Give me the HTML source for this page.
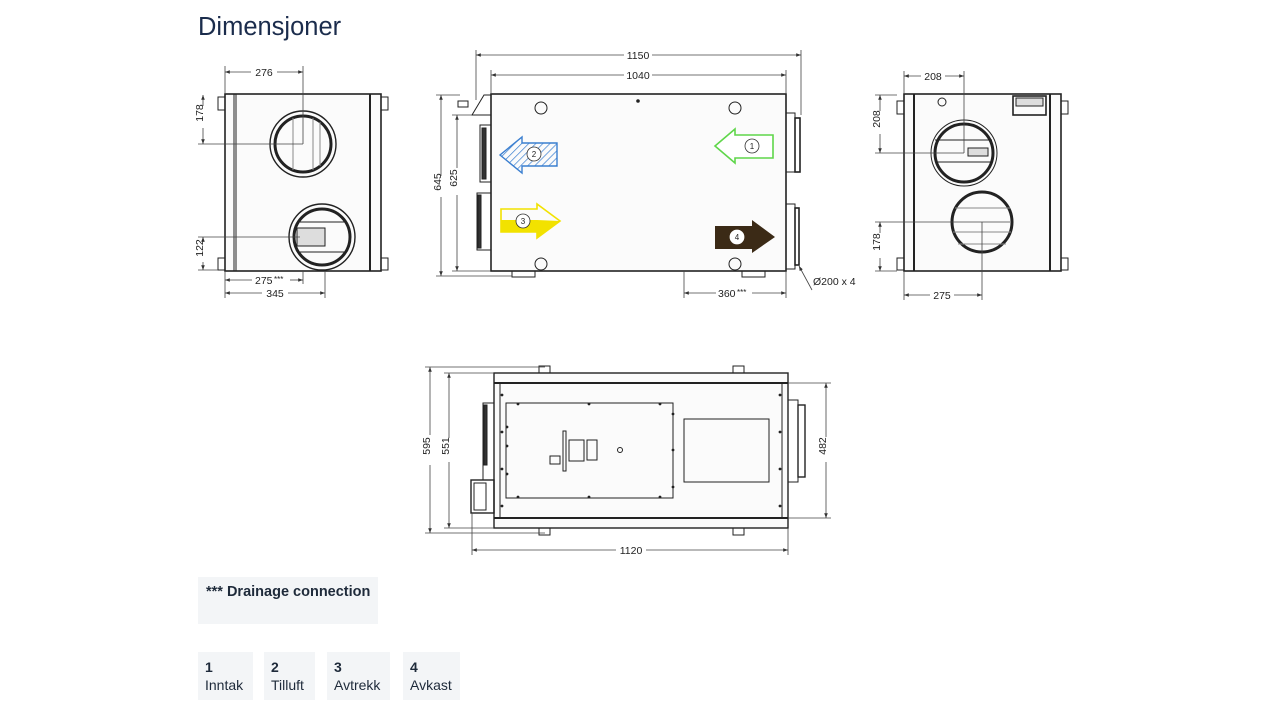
<!DOCTYPE html>
<html><head><meta charset="utf-8"><style>
html,body{margin:0;padding:0;background:#fff;width:1280px;height:720px;overflow:hidden}
svg{position:absolute;left:0;top:0}
.t{font-family:"Liberation Sans",Arial,sans-serif}
</style></head><body>
<svg width="1280" height="720" viewBox="0 0 1280 720" xmlns="http://www.w3.org/2000/svg">
<defs>
<pattern id="h" patternUnits="userSpaceOnUse" width="5" height="5" patternTransform="rotate(45)"><line x1="0" y1="0" x2="0" y2="5" stroke="#3b7fd0" stroke-width="1.4"/></pattern>
<marker id="a" viewBox="0 0 8 8" refX="8" refY="4" markerWidth="6" markerHeight="6" orient="auto-start-reverse"><path d="M0,1 L8,4 L0,7z" fill="#333"/></marker>
</defs>
<text x="198" y="35" class="t" font-size="25.5" fill="#1b2c4c">Dimensjoner</text>

<g stroke="#222" fill="none" stroke-width="1">
<!-- LEFT VIEW -->
<rect x="225" y="94" width="156" height="177" stroke-width="1.6" fill="#fbfbfb"/>
<line x1="234" y1="94" x2="234" y2="271"/><line x1="236" y1="94" x2="236" y2="271"/>
<line x1="370" y1="94" x2="370" y2="271" stroke-width="2"/>
<rect x="218" y="97" width="7" height="13"/><rect x="218" y="258" width="7" height="12"/>
<rect x="381" y="97" width="7" height="13"/><rect x="381" y="258" width="7" height="12"/>
<circle cx="303" cy="144" r="33" stroke-width="1.4"/><circle cx="303" cy="144" r="28" stroke-width="3"/>
<line x1="293" y1="118" x2="293" y2="170" stroke="#888"/><line x1="313" y1="118" x2="313" y2="170" stroke="#888"/><line x1="320" y1="122" x2="320" y2="166" stroke="#888"/>
<circle cx="322" cy="237" r="33" stroke-width="1.4"/><circle cx="322" cy="237" r="28" stroke-width="3"/>
<rect x="297" y="228" width="28" height="18" fill="#ddd"/><line x1="300" y1="222" x2="345" y2="222"/><line x1="300" y1="252" x2="345" y2="252"/>
<g stroke="#444" stroke-width="0.8">
<line x1="225" y1="72" x2="251" y2="72" marker-start="url(#a)"/><line x1="277" y1="72" x2="303" y2="72" marker-end="url(#a)"/>
<line x1="225" y1="66" x2="225" y2="94"/><line x1="303" y1="66" x2="303" y2="144"/>
<line x1="203" y1="95" x2="203" y2="106" marker-start="url(#a)"/><line x1="203" y1="128" x2="203" y2="144" marker-end="url(#a)"/>
<line x1="198" y1="144" x2="303" y2="144"/>
<line x1="203" y1="237" x2="203" y2="242" marker-start="url(#a)"/><line x1="203" y1="262" x2="203" y2="270" marker-end="url(#a)"/>
<line x1="198" y1="237" x2="300" y2="237"/><line x1="198" y1="270" x2="218" y2="270"/>
<line x1="225" y1="271" x2="225" y2="298"/><line x1="303" y1="271" x2="303" y2="284"/><line x1="325" y1="271" x2="325" y2="298"/>
<line x1="225" y1="280" x2="252" y2="280" marker-start="url(#a)"/><line x1="290" y1="280" x2="303" y2="280" marker-end="url(#a)"/>
<line x1="225" y1="293" x2="262" y2="293" marker-start="url(#a)"/><line x1="288" y1="293" x2="325" y2="293" marker-end="url(#a)"/>
</g>

<!-- MIDDLE VIEW -->
<rect x="491" y="94" width="295" height="177" stroke-width="1.6" fill="#fbfbfb"/>
<circle cx="541" cy="108" r="6"/><circle cx="735" cy="108" r="6"/><circle cx="541" cy="264" r="6"/><circle cx="735" cy="264" r="6"/>
<circle cx="638" cy="101" r="1.3" fill="#222"/>
<path d="M472,115 L484,95 L491,95 L491,115 Z"/><path d="M458,101 h10 v6 h-10z"/>
<rect x="480" y="125" width="11" height="57"/><rect x="482" y="128" width="4" height="51" fill="#333"/>
<rect x="477" y="193" width="14" height="57"/><rect x="478" y="195" width="3" height="53" fill="#333"/>
<rect x="786" y="113" width="9" height="59"/><rect x="795" y="118" width="5" height="54" stroke-width="1.6"/>
<rect x="786" y="204" width="9" height="65"/><rect x="795" y="208" width="4" height="57" stroke-width="1.6"/>
<rect x="512" y="271" width="23" height="6"/><rect x="742" y="271" width="23" height="6"/>
<g stroke="#444" stroke-width="0.8">
<line x1="476" y1="55" x2="624" y2="55" marker-start="url(#a)"/><line x1="652" y1="55" x2="801" y2="55" marker-end="url(#a)"/>
<line x1="476" y1="50" x2="476" y2="100"/><line x1="801" y1="50" x2="801" y2="115"/>
<line x1="491" y1="75" x2="624" y2="75" marker-start="url(#a)"/><line x1="652" y1="75" x2="786" y2="75" marker-end="url(#a)"/>
<line x1="491" y1="70" x2="491" y2="94"/><line x1="786" y1="70" x2="786" y2="94"/>
<line x1="441" y1="95" x2="441" y2="176" marker-start="url(#a)"/><line x1="441" y1="197" x2="441" y2="276" marker-end="url(#a)"/>
<line x1="436" y1="95" x2="460" y2="95"/><line x1="436" y1="276" x2="512" y2="276"/>
<line x1="457" y1="115" x2="457" y2="168" marker-start="url(#a)"/><line x1="457" y1="195" x2="457" y2="271" marker-end="url(#a)"/>
<line x1="452" y1="115" x2="472" y2="115"/><line x1="452" y1="271" x2="491" y2="271"/>
<line x1="684" y1="271" x2="684" y2="298"/><line x1="786" y1="271" x2="786" y2="298"/>
<line x1="684" y1="293" x2="716" y2="293" marker-start="url(#a)"/><line x1="752" y1="293" x2="786" y2="293" marker-end="url(#a)"/>
<line x1="812" y1="290" x2="799" y2="266" marker-end="url(#a)"/>
</g>
<path d="M773,135 L735,135 L735,129 L715,146 L735,163 L735,158 L773,158 Z" stroke="#5fd64a" stroke-width="1.6" fill="#fff"/>
<circle cx="752" cy="146" r="7" stroke="#333" stroke-width="0.8" fill="#fff"/>
<path d="M557,143 L522,143 L522,137 L500,155 L522,173 L522,166 L557,166 Z" stroke="#3b7fd0" stroke-width="1.4" fill="url(#h)"/>
<circle cx="534" cy="154" r="7" stroke="#333" stroke-width="0.8" fill="#fff"/>
<path d="M501,220 L537,220 L537,232 L501,232 Z" fill="#f2e200" stroke="none"/>
<path d="M501,209 L537,209 L537,204 L560,221 L537,238 L537,232 L501,232 Z" stroke="#f2e200" stroke-width="1.6" fill="none"/>
<path d="M537,220 L560,221 L537,238 Z" fill="#f2e200" stroke="none"/>
<circle cx="523" cy="221" r="7" stroke="#333" stroke-width="0.8" fill="#fff"/>
<path d="M715,226 L752,226 L752,220 L775,237 L752,253 L752,249 L715,249 Z" fill="#3b2a16" stroke="none"/>
<circle cx="737" cy="237" r="7" stroke="#fff" stroke-width="0.8" fill="#fff"/>

<!-- RIGHT VIEW -->
<rect x="904" y="94" width="157" height="177" stroke-width="1.6" fill="#fbfbfb"/>
<line x1="914" y1="94" x2="914" y2="271" stroke-width="2"/><line x1="1050" y1="94" x2="1050" y2="271" stroke-width="2"/>
<rect x="897" y="101" width="7" height="13"/><rect x="897" y="258" width="7" height="12"/>
<rect x="1061" y="101" width="7" height="13"/><rect x="1061" y="258" width="7" height="12"/>
<rect x="1013" y="96" width="33" height="19" stroke-width="1.6"/><rect x="1016" y="98" width="27" height="8" fill="#ddd"/>
<circle cx="942" cy="102" r="4"/>
<circle cx="964" cy="153" r="33"/><circle cx="964" cy="153" r="29" stroke-width="3"/>
<line x1="935" y1="140" x2="992" y2="140"/><line x1="935" y1="162" x2="992" y2="162"/><rect x="968" y="148" width="20" height="8" fill="#ddd"/>
<circle cx="982" cy="222" r="30" stroke-width="3"/>
<line x1="955" y1="208" x2="1010" y2="208" stroke="#888"/><line x1="953" y1="232" x2="1011" y2="232" stroke="#888"/><line x1="958" y1="244" x2="1006" y2="244" stroke="#888"/>
<g stroke="#444" stroke-width="0.8">
<line x1="904" y1="76" x2="921" y2="76" marker-start="url(#a)"/><line x1="945" y1="76" x2="964" y2="76" marker-end="url(#a)"/>
<line x1="904" y1="71" x2="904" y2="94"/><line x1="964" y1="71" x2="964" y2="153"/>
<line x1="880" y1="95" x2="880" y2="111" marker-start="url(#a)"/><line x1="880" y1="134" x2="880" y2="153" marker-end="url(#a)"/>
<line x1="875" y1="153" x2="964" y2="153"/><line x1="875" y1="95" x2="897" y2="95"/>
<line x1="880" y1="222" x2="880" y2="233" marker-start="url(#a)"/><line x1="880" y1="258" x2="880" y2="271" marker-end="url(#a)"/>
<line x1="875" y1="222" x2="1010" y2="222"/><line x1="875" y1="271" x2="897" y2="271"/>
<line x1="904" y1="271" x2="904" y2="300"/><line x1="982" y1="222" x2="982" y2="300"/>
<line x1="904" y1="295" x2="930" y2="295" marker-start="url(#a)"/><line x1="954" y1="295" x2="982" y2="295" marker-end="url(#a)"/>
</g>

<!-- BOTTOM VIEW -->
<rect x="494" y="373" width="294" height="155" stroke-width="1.4" fill="#fbfbfb"/>
<line x1="494" y1="383" x2="788" y2="383" stroke-width="2"/><line x1="494" y1="518" x2="788" y2="518" stroke-width="2"/>
<line x1="500" y1="383" x2="500" y2="518"/><line x1="782" y1="383" x2="782" y2="518"/>
<rect x="539" y="366" width="11" height="7"/><rect x="733" y="366" width="11" height="7"/>
<rect x="539" y="528" width="11" height="7"/><rect x="733" y="528" width="11" height="7"/>
<rect x="506" y="403" width="167" height="95"/>
<rect x="684" y="419" width="85" height="63"/>
<rect x="563" y="431" width="3" height="40"/><rect x="569" y="440" width="15" height="21"/><rect x="587" y="440" width="10" height="20"/><rect x="550" y="456" width="10" height="8"/>
<circle cx="620" cy="450" r="2.5"/>
<g fill="#222" stroke="none">
<circle cx="518" cy="404" r="1.4"/><circle cx="589" cy="404" r="1.4"/><circle cx="660" cy="404" r="1.4"/>
<circle cx="518" cy="497" r="1.4"/><circle cx="589" cy="497" r="1.4"/><circle cx="660" cy="497" r="1.4"/>
<circle cx="507" cy="427" r="1.4"/><circle cx="507" cy="446" r="1.4"/><circle cx="507" cy="474" r="1.4"/>
<circle cx="673" cy="414" r="1.4"/><circle cx="673" cy="450" r="1.4"/><circle cx="673" cy="487" r="1.4"/>
<circle cx="502" cy="395" r="1.4"/><circle cx="502" cy="432" r="1.4"/><circle cx="502" cy="469" r="1.4"/><circle cx="502" cy="506" r="1.4"/>
<circle cx="780" cy="395" r="1.4"/><circle cx="780" cy="432" r="1.4"/><circle cx="780" cy="469" r="1.4"/><circle cx="780" cy="506" r="1.4"/>
</g>
<rect x="483" y="403" width="11" height="77"/><rect x="484" y="405" width="3" height="60" fill="#333"/>
<rect x="471" y="480" width="23" height="33" stroke-width="1.4"/><rect x="474" y="483" width="12" height="27"/>
<rect x="788" y="400" width="10" height="82"/><rect x="798" y="405" width="7" height="72" stroke-width="1.4"/>
<g stroke="#444" stroke-width="0.8">
<line x1="430" y1="367" x2="430" y2="435" marker-start="url(#a)"/><line x1="430" y1="465" x2="430" y2="533" marker-end="url(#a)"/>
<line x1="425" y1="367" x2="545" y2="367"/><line x1="425" y1="533" x2="545" y2="533"/>
<line x1="449" y1="373" x2="449" y2="438" marker-start="url(#a)"/><line x1="449" y1="462" x2="449" y2="528" marker-end="url(#a)"/>
<line x1="444" y1="373" x2="494" y2="373"/><line x1="444" y1="528" x2="494" y2="528"/>
<line x1="826" y1="383" x2="826" y2="437" marker-start="url(#a)"/><line x1="826" y1="462" x2="826" y2="518" marker-end="url(#a)"/>
<line x1="788" y1="383" x2="831" y2="383"/><line x1="788" y1="518" x2="831" y2="518"/>
<line x1="472" y1="550" x2="616" y2="550" marker-start="url(#a)"/><line x1="646" y1="550" x2="788" y2="550" marker-end="url(#a)"/>
<line x1="472" y1="513" x2="472" y2="555"/><line x1="788" y1="528" x2="788" y2="555"/>
</g>
</g>

<g class="t" font-size="10.5" fill="#222">
<text x="264" y="76" text-anchor="middle">276</text>
<text x="207" y="117" text-anchor="middle" transform="rotate(-90 203 117)">178</text>
<text x="207" y="252" text-anchor="middle" transform="rotate(-90 203 252)">122</text>
<text x="255" y="284">275</text><text x="274" y="282" font-size="8">***</text>
<text x="275" y="297" text-anchor="middle">345</text>
<text x="638" y="59" text-anchor="middle">1150</text>
<text x="638" y="79" text-anchor="middle">1040</text>
<text x="445" y="186" text-anchor="middle" transform="rotate(-90 441 186)">645</text>
<text x="461" y="182" text-anchor="middle" transform="rotate(-90 457 182)">625</text>
<text x="718" y="297">360</text><text x="737" y="295" font-size="8">***</text>
<text x="813" y="285">Ø200 x 4</text>
<text x="933" y="80" text-anchor="middle">208</text>
<text x="884" y="123" text-anchor="middle" transform="rotate(-90 880 123)">208</text>
<text x="884" y="246" text-anchor="middle" transform="rotate(-90 880 246)">178</text>
<text x="942" y="299" text-anchor="middle">275</text>
<text x="434" y="450" text-anchor="middle" transform="rotate(-90 430 450)">595</text>
<text x="453" y="450" text-anchor="middle" transform="rotate(-90 449 450)">551</text>
<text x="830" y="450" text-anchor="middle" transform="rotate(-90 826 450)">482</text>
<text x="631" y="554" text-anchor="middle">1120</text>
<g font-size="8" text-anchor="middle"><text x="752" y="149">1</text><text x="534" y="157">2</text><text x="523" y="224">3</text><text x="737" y="240">4</text></g>
</g>

<rect x="198" y="577" width="180" height="47" fill="#f3f5f7"/>
<text x="206" y="596" class="t" font-size="14.5" font-weight="bold" fill="#1e2a3a">*** Drainage connection</text>
<g fill="#f3f5f7"><rect x="198" y="652" width="55" height="48"/><rect x="264" y="652" width="51" height="48"/><rect x="327" y="652" width="63" height="48"/><rect x="403" y="652" width="57" height="48"/></g>
<g class="t" font-size="14" fill="#1e2a3a">
<text x="205" y="672" font-weight="bold">1</text><text x="205" y="690">Inntak</text>
<text x="271" y="672" font-weight="bold">2</text><text x="271" y="690">Tilluft</text>
<text x="334" y="672" font-weight="bold">3</text><text x="334" y="690">Avtrekk</text>
<text x="410" y="672" font-weight="bold">4</text><text x="410" y="690">Avkast</text>
</g>
</svg>
</body></html>
